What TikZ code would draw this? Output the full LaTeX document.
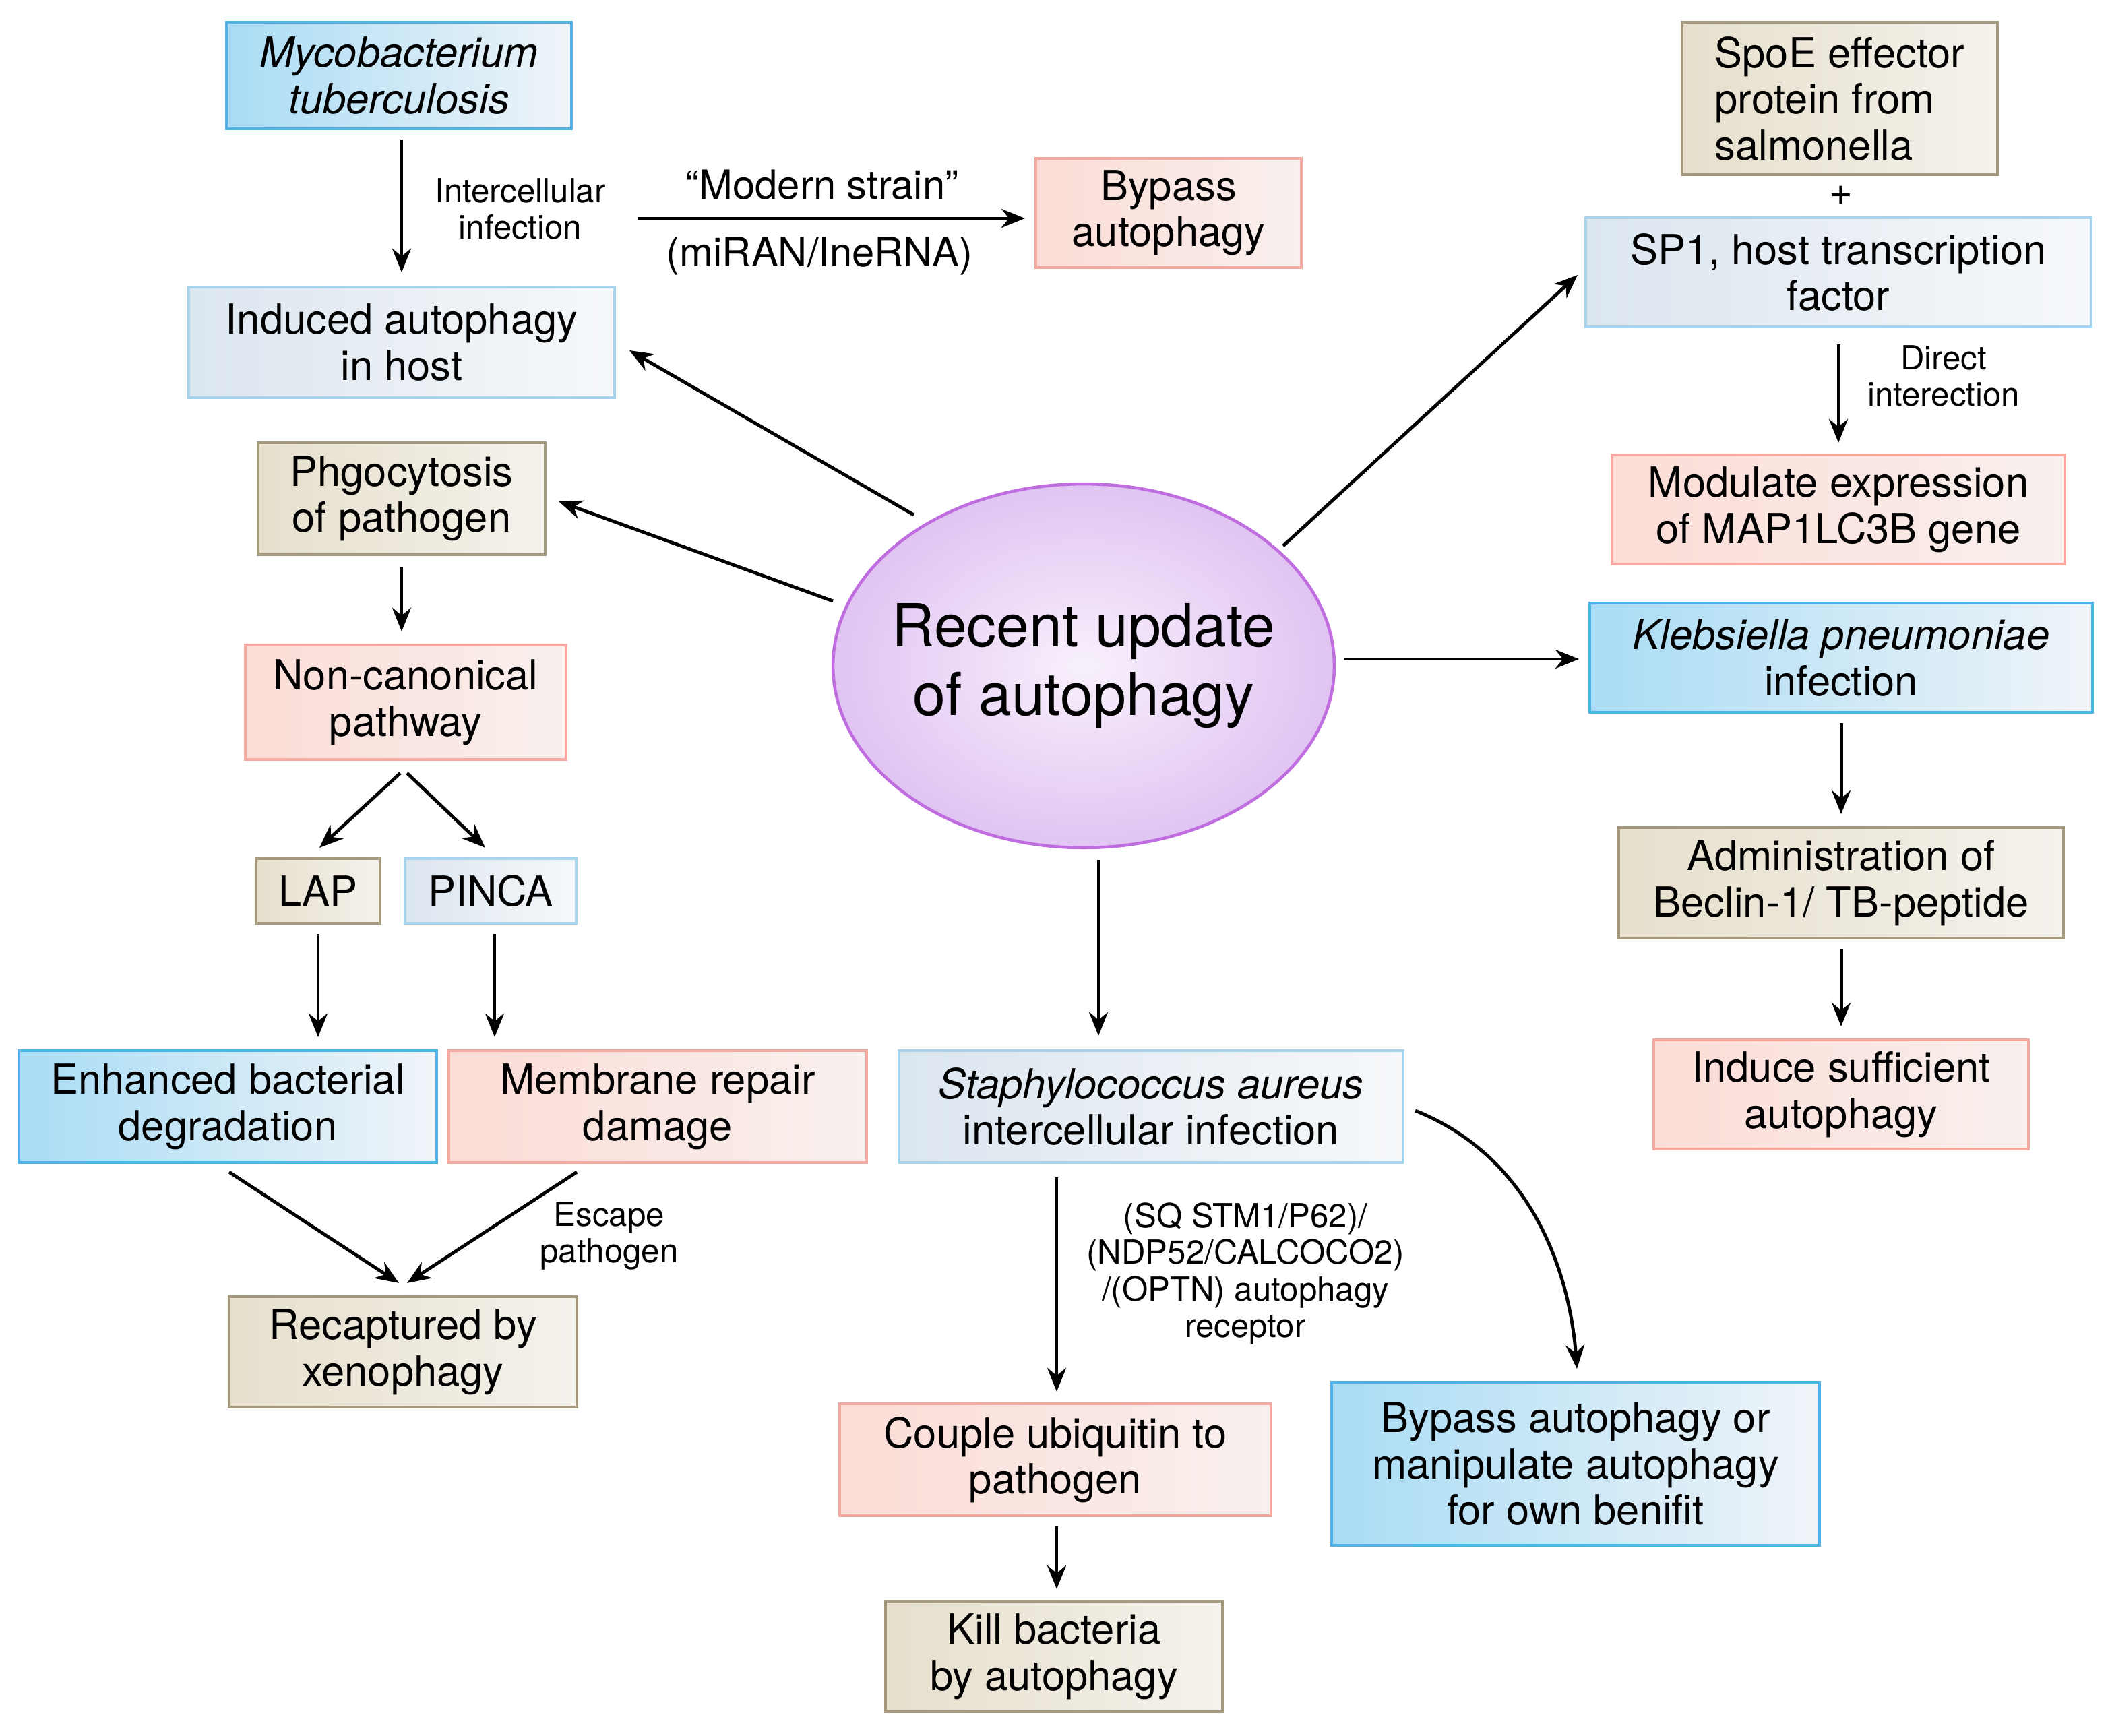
\documentclass[tikz,border=0pt]{standalone}
\usepackage{fontspec}
\setmainfont{TeX Gyre Heros}
\usetikzlibrary{arrows.meta,calc,shapes.geometric}
\definecolor{bB}{HTML}{4FB3EA}\definecolor{bL}{HTML}{A9DCF5}\definecolor{bR}{HTML}{F0F4F8}
\definecolor{rB}{HTML}{F4A9A0}\definecolor{rL}{HTML}{FCDCD6}\definecolor{rR}{HTML}{F8F0EE}
\definecolor{tB}{HTML}{A59A80}\definecolor{tL}{HTML}{E6DFCC}\definecolor{tR}{HTML}{F4F2EC}
\definecolor{gB}{HTML}{A8D3EC}\definecolor{gL}{HTML}{DCE6EF}\definecolor{gR}{HTML}{F6F8FA}
\definecolor{eB}{HTML}{C06DE0}\definecolor{eI}{HTML}{F8F0FC}\definecolor{eO}{HTML}{E0C4F2}
\begin{document}
\begin{tikzpicture}[x=0.02cm,y=-0.02cm,
 bx/.style={draw,line width=1.2pt,align=center,inner sep=1pt,font=\fontsize{17.5}{19.5}\selectfont},
 blue/.style={bx,draw=bB,left color=bL,right color=bR},
 red/.style={bx,draw=rB,left color=rL,right color=rR},
 tan/.style={bx,draw=tB,left color=tL,right color=tR},
 gry/.style={bx,draw=gB,left color=gL,right color=gR},
 lbl/.style={align=center,font=\fontsize{14}{15.5}\selectfont},
 ar/.style={-{Stealth[length=10pt,width=8pt]},line width=1.4pt}]
\useasboundingbox (0,0) rectangle (1565.5,1287.5);
\node[blue,minimum width=5.12cm,minimum height=1.58cm] (mtb) at (296,56) {\itshape Mycobacterium\\\itshape tuberculosis};
\node[gry,minimum width=6.32cm,minimum height=1.64cm] (ind) at (298,254) {Induced autophagy\\in host};
\node[red,minimum width=3.94cm,minimum height=1.62cm] (byp) at (867,158) {Bypass\\autophagy};
\node[tan,minimum width=4.26cm,minimum height=1.66cm] (pha) at (298,370) {Phgocytosis\\of pathogen};
\node[red,minimum width=4.76cm,minimum height=1.7cm] (non) at (301,521) {Non-canonical\\pathway};
\node[tan,minimum width=1.84cm,minimum height=0.96cm] (lap) at (236,661) {LAP};
\node[gry,minimum width=2.54cm,minimum height=0.96cm] (pin) at (364,661) {PINCA};
\node[blue,minimum width=6.2cm,minimum height=1.66cm] (enh) at (169,821) {Enhanced bacterial\\degradation};
\node[red,minimum width=6.2cm,minimum height=1.66cm] (mem) at (488,821) {Membrane repair\\damage};
\node[tan,minimum width=5.16cm,minimum height=1.64cm] (rec) at (299,1003) {Recaptured by\\xenophagy};
\node[ellipse,draw=eB,line width=1.3pt,inner color=eI,outer color=eO,inner xsep=-0.3cm,inner ysep=0pt,minimum width=7.44cm,minimum height=5.4cm,align=center,font=\fontsize{25}{29}\selectfont] (ell) at (804,494) {Recent update\\of autophagy};
\node[tan,minimum width=4.68cm,minimum height=2.26cm,align=left] (spo) at (1365,73) {SpoE effector\\protein from\\salmonella};
\node[font=\fontsize{17}{19}\selectfont] (plus) at (1366,145) {+};
\node[gry,minimum width=7.5cm,minimum height=1.62cm] (sp1) at (1364,202) {SP1, host transcription\\factor};
\node[red,minimum width=6.72cm,minimum height=1.62cm] (mod) at (1364,378) {Modulate expression\\of MAP1LC3B gene};
\node[blue,minimum width=7.46cm,minimum height=1.62cm] (kle) at (1366,488) {\itshape Klebsiella pneumoniae\\infection};
\node[tan,minimum width=6.6cm,minimum height=1.64cm] (adm) at (1366,655) {Administration of\\Beclin-1/ TB-peptide};
\node[red,minimum width=5.56cm,minimum height=1.62cm] (isu) at (1366,812) {Induce sufficient\\autophagy};
\node[gry,minimum width=7.48cm,minimum height=1.66cm] (sta) at (854,821) {\itshape Staphylococcus aureus\\intercellular infection};
\node[red,minimum width=6.4cm,minimum height=1.66cm] (cou) at (783,1083) {Couple ubiquitin to\\pathogen};
\node[tan,minimum width=5.0cm,minimum height=1.64cm] (kil) at (782,1229) {Kill bacteria\\by autophagy};
\node[blue,minimum width=7.24cm,minimum height=2.42cm] (bpm) at (1169,1086) {Bypass autophagy or\\manipulate autophagy\\for own benifit};
% connectors
\draw[ar] ($(mtb.south)+(2,7)$) -- ($(ind.north)+(0,-10)$);
\node[lbl] (l1) at (386,155) {Intercellular\\infection};
\coordinate (ms) at (473,162);
\draw[ar] (ms) -- ($(byp.west)+(-7,4)$);
\node[lbl,font=\fontsize{17}{19}\selectfont] (l2) at (610,137) {“Modern strain”};
\node[lbl,font=\fontsize{17}{19}\selectfont] (l3) at (608,190) {(miRAN/IneRNA)};
\draw[ar] ($(ell.center)+(-126,-112)$) -- ($(ind.east)+(10,6)$);
\draw[ar] ($(ell.center)+(-186,-48)$) -- ($(pha.east)+(9,2)$);
\draw[ar] ($(pha.south)+(0,8)$) -- ($(non.north)+(-3,-9)$);
\draw[ar] ($(non.south)+(-4,9)$) -- ($(lap.north)+(1,-7)$);
\draw[ar] ($(non.south)+(1,9)$) -- ($(pin.north)+(-4,-7)$);
\draw[ar] ($(lap.south)+(0,7)$) -- ($(enh.north)+(67,-9)$);
\draw[ar] ($(pin.south)+(3,7)$) -- ($(mem.north)+(-121,-9)$);
\draw[ar] ($(enh.south)+(1,6)$) -- ($(rec.north)+(-3,-9)$);
\draw[ar] ($(mem.south)+(-60,6)$) -- ($(rec.north)+(3,-9)$);
\node[lbl] (l4) at (452,917) {Escape\\pathogen};
\draw[ar] ($(ell.center)+(148,-89)$) -- ($(sp1.west)+(-5,2)$);
\draw[ar] ($(sp1.south)+(0,12)$) -- ($(mod.north)+(0,-8)$);
\node[lbl] (l5) at (1442,279) {Direct\\interection};
\draw[ar] ($(ell.center)+(193,-5)$) -- ($(kle.west)+(-7,1)$);
\draw[ar] ($(kle.south)+(0,7)$) -- ($(adm.north)+(0,-9)$);
\draw[ar] ($(adm.south)+(0,7)$) -- ($(isu.north)+(0,-9)$);
\draw[ar] ($(ell.south)+(11,8)$) -- ($(sta.north)+(-39,-10)$);
\draw[ar] ($(sta.south)+(-70,10)$) -- ($(cou.north)+(1,-8)$);
\node[lbl] (l6) at (924,945) {(SQ STM1/P62)/\\(NDP52/CALCOCO2)\\/(OPTN) autophagy\\receptor};
\draw[ar] ($(sta.east)+(8,3)$) .. controls (1140,860) and (1165,950) .. ($(bpm.north)+(1,-9)$);
\draw[ar] ($(cou.south)+(1,7)$) -- ($(kil.north)+(2,-8)$);
\end{tikzpicture}
\end{document}
